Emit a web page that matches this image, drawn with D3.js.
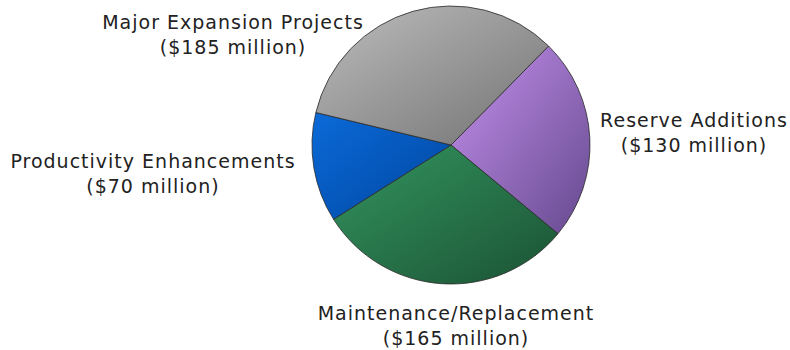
<!DOCTYPE html>
<html>
<head>
<meta charset="utf-8">
<script src="https://cdn.jsdelivr.net/npm/d3@7"></script>
<style>
  html, body { margin: 0; padding: 0; background: #fff; }
  svg { display: block; }
  .lbl { font-family: "DejaVu Sans", Verdana, sans-serif; font-size: 19px; letter-spacing: 1px; fill: #222; }
</style>
</head>
<body>
<svg id="chart" width="790" height="350"></svg>
<script>
// Capital spending by category, $ millions (drawn clockwise)
const categories = ["Reserve Additions", "Maintenance/Replacement", "Productivity Enhancements", "Major Expansion Projects"];
const values = [130, 165, 70, 185];
const valueLabels = ["($130 million)", "($165 million)", "($70 million)", "($185 million)"];
// light → dark shade for each slice
const lightColors = ["#c591ee", "#33955f", "#0b6ad8", "#bdbdbd"];
const darkColors  = ["#65498e", "#1b5234", "#0046a0", "#727272"];
// label anchor positions (centre of first line baseline)
const labelPos = [[694, 127], [456, 320], [153, 168], [233, 29]];

const svg = d3.select("#chart");
const cx = 451, cy = 145, r = 139;

const defs = svg.append("defs");
categories.forEach((c, i) => {
  const g = defs.append("linearGradient")
    .attr("id", "grad" + i)
    .attr("x1", 0).attr("y1", 0).attr("x2", 1).attr("y2", 1);
  g.append("stop").attr("offset", "0%").attr("stop-color", lightColors[i]);
  g.append("stop").attr("offset", "100%").attr("stop-color", darkColors[i]);
});

const startDeg = 44.6;
const pie = d3.pie().sort(null).value(d => d)
  .startAngle(startDeg * Math.PI / 180)
  .endAngle((startDeg + 360) * Math.PI / 180);
const arc = d3.arc().innerRadius(0).outerRadius(r);

const g = svg.append("g").attr("transform", `translate(${cx},${cy})`);
g.selectAll("path")
  .data(pie(values))
  .join("path")
  .attr("d", arc)
  .attr("fill", (d, i) => `url(#grad${i})`)
  .attr("stroke", "#2a2a2a")
  .attr("stroke-width", 0.8)
  .attr("stroke-linejoin", "round");

const labels = svg.append("g");
categories.forEach((c, i) => {
  const t = labels.append("text")
    .attr("class", "lbl")
    .attr("text-anchor", "middle")
    .attr("x", labelPos[i][0])
    .attr("y", labelPos[i][1]);
  t.append("tspan").attr("x", labelPos[i][0]).text(c);
  t.append("tspan").attr("x", labelPos[i][0]).attr("dy", 25).text(valueLabels[i]);
});
</script>
</body>
</html>
